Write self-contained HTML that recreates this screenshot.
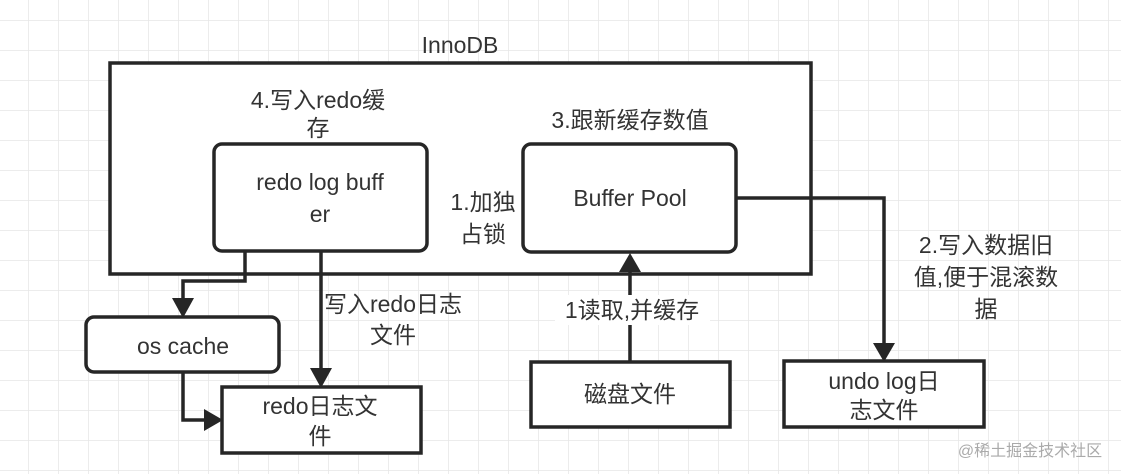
<!DOCTYPE html>
<html><head><meta charset="utf-8"><style>
html,body{margin:0;padding:0;background:#fff}
svg{display:block}
text{font-family:"Liberation Sans","Noto Sans CJK SC",sans-serif;font-size:23px;fill:#333;text-anchor:middle}
</style></head><body>
<svg width="1121" height="474" xmlns="http://www.w3.org/2000/svg">
<defs>
<pattern id="g" x="28" y="20" width="30" height="30" patternUnits="userSpaceOnUse">
<path d="M0 0H30M0 0V30" stroke="#e6e6e6" stroke-width="1.5" fill="none"/>
</pattern>
</defs>
<rect width="1121" height="474" fill="url(#g)"/>
<g stroke="#262626" stroke-width="3.5" fill="#fff">
<rect x="110" y="63" width="701" height="211"/>
<rect x="214" y="144" width="213" height="107" rx="8"/>
<rect x="523" y="144" width="213" height="108" rx="8"/>
<rect x="86" y="317" width="193" height="55" rx="8"/>
<rect x="222" y="387" width="199" height="66"/>
<rect x="531" y="362" width="199" height="65"/>
<rect x="784" y="361" width="200" height="66"/>
</g>
<g stroke="#262626" stroke-width="3.5" fill="none">
<path d="M245 251V281H183V300"/>
<path d="M321 251V370"/>
<path d="M183 372V420H206"/>
<path d="M630 362V270"/>
<path d="M736 198H884V345"/>
</g>
<g fill="#262626">
<path d="M172 298H194L183 318Z"/>
<path d="M310 368H332L321 388Z"/>
<path d="M204 409V431L223 420Z"/>
<path d="M619 272H641L630 253Z"/>
<path d="M873 343H895L884 362Z"/>
</g>
<rect x="555" y="295" width="155" height="30" fill="#fff"/>
<text x="460" y="53">InnoDB</text>
<text x="318" y="108">4.写入redo缓</text>
<text x="318" y="136">存</text>
<text x="630" y="128">3.跟新缓存数值</text>
<text x="320" y="190">redo log buff</text>
<text x="320" y="222">er</text>
<text x="630" y="206">Buffer Pool</text>
<text x="483" y="210">1.加独</text>
<text x="483" y="242">占锁</text>
<text x="183" y="354">os cache</text>
<text x="320" y="414">redo日志文</text>
<text x="320" y="444">件</text>
<text x="393" y="312">写入redo日志</text>
<text x="393" y="343">文件</text>
<text x="632" y="318">1读取,并缓存</text>
<text x="630" y="402">磁盘文件</text>
<text x="884" y="389">undo log日</text>
<text x="884" y="418">志文件</text>
<text x="986" y="253">2.写入数据旧</text>
<text x="986" y="285">值,便于混滚数</text>
<text x="986" y="317">据</text>
<text x="1030" y="456" style="font-size:16px;fill:#aaa">@稀土掘金技术社区</text>
</svg>
</body></html>
